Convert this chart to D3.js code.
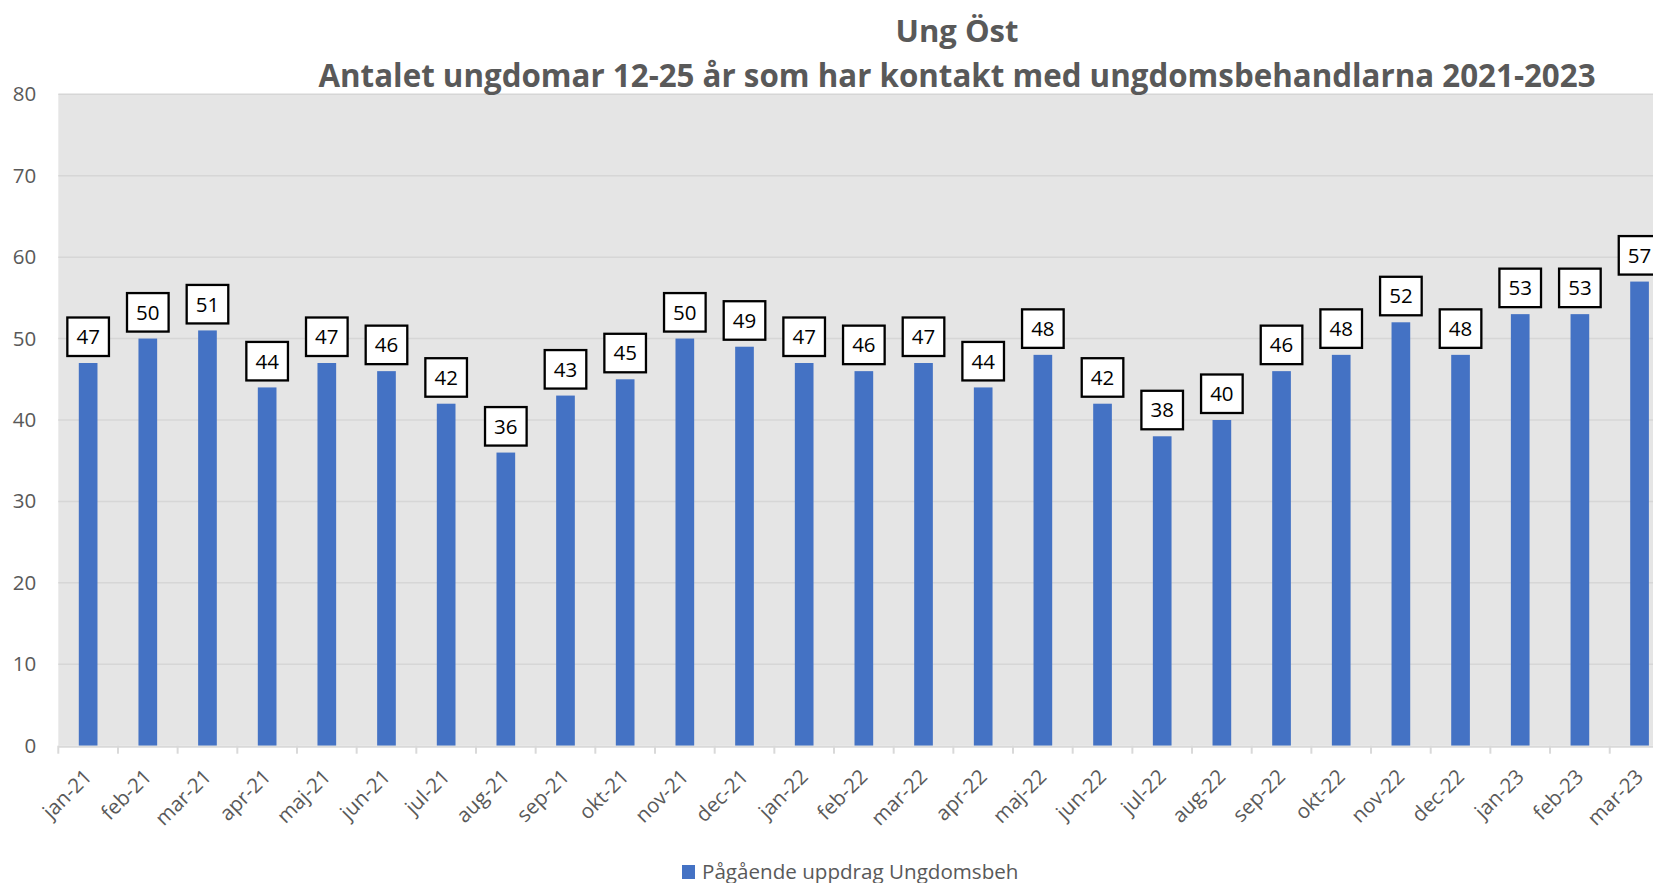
<!DOCTYPE html>
<html>
<head>
<meta charset="utf-8">
<script src="https://cdn.jsdelivr.net/npm/d3@7"></script>
<style>
    body { margin: 0; background: #fff; overflow: hidden; }
    text { font-family: 'Open Sans', 'Noto Sans', sans-serif; }
</style>
</head>
<body>
<svg id="chart" width="1653" height="883"></svg>
<script>
// data
let months = ['jan-21', 'feb-21', 'mar-21', 'apr-21', 'maj-21', 'jun-21', 'jul-21', 'aug-21', 'sep-21',
    'okt-21', 'nov-21', 'dec-21', 'jan-22', 'feb-22', 'mar-22', 'apr-22', 'maj-22', 'jun-22',
    'jul-22', 'aug-22', 'sep-22', 'okt-22', 'nov-22', 'dec-22', 'jan-23', 'feb-23', 'mar-23']
let values = [47, 50, 51, 44, 47, 46, 42, 36, 43, 45, 50, 49, 47, 46, 47, 44, 48, 42, 38, 40, 46, 48, 52, 48, 53, 53, 57]
let yTicks = [0, 10, 20, 30, 40, 50, 60, 70, 80]
let titleLines = ['Ung Öst', 'Antalet ungdomar 12-25 år som har kontakt med ungdomsbehandlarna 2021-2023']
let seriesName = 'Pågående uppdrag Ungdomsbeh'

let svg = d3.select('#chart')
let plotLeft = 58.3
let plotTop = 94.3
let plotBottom = 745.7
let step = 59.67
let plotRight = plotLeft + step * months.length   // runs past the picture edge, as in the original

let xScale = d3.scaleBand().domain(months).range([plotLeft, plotRight]).padding(0)
let yScale = d3.scaleLinear().domain([0, 80]).range([plotBottom, plotTop])
let barW = xScale.bandwidth() * 0.313

// plot background
svg.append('rect').attr('x', plotLeft).attr('y', plotTop)
    .attr('width', plotRight - plotLeft).attr('height', plotBottom - plotTop)
    .attr('fill', '#e5e5e5')

// grid lines
svg.append('g').selectAll('line').data(yTicks.slice(1)).join('line')
    .attr('x1', plotLeft).attr('x2', plotRight)
    .attr('y1', d => yScale(d)).attr('y2', d => yScale(d))
    .attr('stroke', '#d6d6d6').attr('stroke-width', 1.5)

// y axis labels
let yAxis = svg.append('g').attr('transform', 'translate(' + plotLeft + ',0)')
    .call(d3.axisLeft(yScale).tickValues(yTicks).tickSize(0).tickPadding(22))
yAxis.select('.domain').remove()
yAxis.selectAll('text').attr('font-size', 20.5).attr('fill', '#595959')
    .attr('font-family', "'Open Sans', sans-serif")

// bars
svg.append('g').selectAll('rect').data(values).join('rect')
    .attr('x', (d, i) => xScale(months[i]) + (xScale.bandwidth() - barW) / 2)
    .attr('y', d => yScale(d))
    .attr('width', barW)
    .attr('height', d => plotBottom - yScale(d))
    .attr('fill', '#4472c4')

// x axis line and ticks between categories
let boundaries = months.map(m => xScale(m))
svg.append('line').attr('x1', plotLeft).attr('x2', plotRight).attr('y1', plotBottom + 1).attr('y2', plotBottom + 1)
    .attr('stroke', '#d9d9d9').attr('stroke-width', 2)
svg.append('g').selectAll('line').data(boundaries).join('line')
    .attr('x1', d => d).attr('x2', d => d)
    .attr('y1', plotBottom).attr('y2', plotBottom + 8)
    .attr('stroke', '#d9d9d9').attr('stroke-width', 2)

// x labels, rotated
svg.append('g').selectAll('text').data(months).join('text')
    .attr('transform', d => 'translate(' + (xScale(d) + xScale.bandwidth() / 2 + 5) + ',778) rotate(-45)')
    .attr('text-anchor', 'end')
    .attr('font-size', 20.5)
    .attr('fill', '#595959')
    .text(d => d)

// data labels in boxes
let boxW = 41.6
let boxH = 38.5
let labels = svg.append('g').selectAll('g').data(values).join('g')
    .attr('transform', (d, i) => 'translate(' + (xScale(months[i]) + xScale.bandwidth() / 2) + ',' + (yScale(d) - 7 - boxH / 2) + ')')
labels.append('rect')
    .attr('x', -boxW / 2).attr('y', -boxH / 2)
    .attr('width', boxW).attr('height', boxH)
    .attr('fill', '#fff').attr('stroke', '#000').attr('stroke-width', 2.3)
labels.append('text')
    .attr('text-anchor', 'middle').attr('dy', '0.36em')
    .attr('font-size', 20.5).attr('fill', '#000')
    .text(d => d)

// title
svg.append('text').attr('x', 957).attr('y', 41.5).attr('text-anchor', 'middle')
    .attr('font-size', 31).attr('font-weight', 700).attr('fill', '#595959')
    .text(titleLines[0])
svg.append('text').attr('x', 957).attr('y', 87).attr('text-anchor', 'middle')
    .attr('font-size', 31.3).attr('font-weight', 700).attr('fill', '#595959')
    .text(titleLines[1])

// legend
let legend = svg.append('g').attr('transform', 'translate(682,865)')
legend.append('rect').attr('width', 13).attr('height', 14).attr('fill', '#4472c4')
legend.append('text').attr('x', 20).attr('y', 13.5)
    .attr('font-size', 20.6).attr('fill', '#595959')
    .text(seriesName)
</script>
</body>
</html>
